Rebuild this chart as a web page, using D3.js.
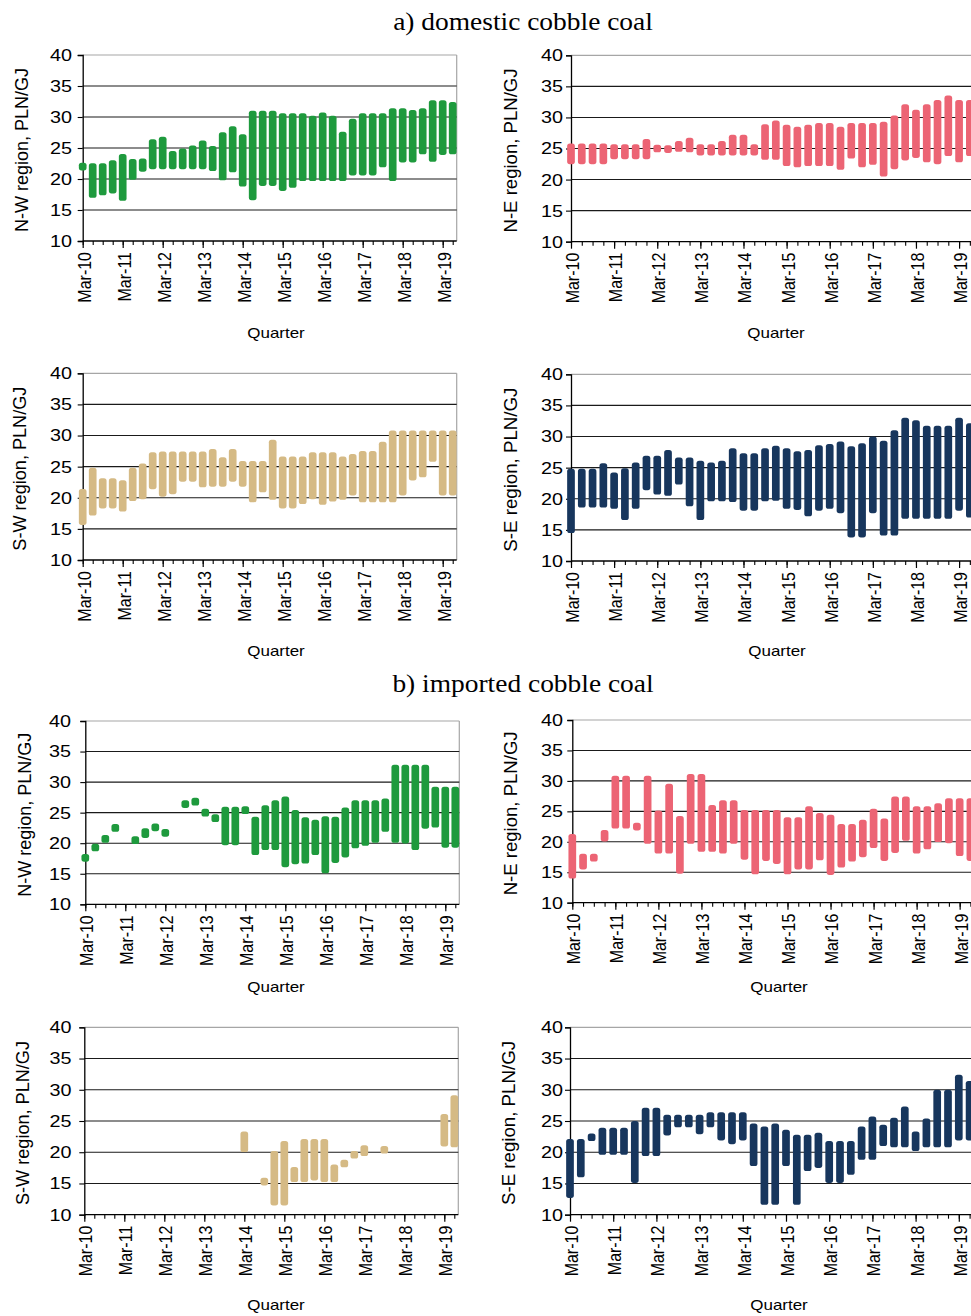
<!DOCTYPE html>
<html>
<head>
<meta charset="utf-8">
<script src="https://cdn.jsdelivr.net/npm/d3@7"></script>
<style>
  html, body { margin: 0; padding: 0; background: #fff; }
  svg { display: block; }
</style>
</head>
<body>
<svg id="chart" width="971" height="1316"></svg>
<script>
// ---------- categories ----------
const quarters = [
  "Mar-10","Jun-10","Sep-10","Dec-10","Mar-11","Jun-11","Sep-11","Dec-11",
  "Mar-12","Jun-12","Sep-12","Dec-12","Mar-13","Jun-13","Sep-13","Dec-13",
  "Mar-14","Jun-14","Sep-14","Dec-14","Mar-15","Jun-15","Sep-15","Dec-15",
  "Mar-16","Jun-16","Sep-16","Dec-16","Mar-17","Jun-17","Sep-17","Dec-17",
  "Mar-18","Jun-18","Sep-18","Dec-18","Mar-19","Jun-19"
];
const tickLabels = ["Mar-10","Mar-11","Mar-12","Mar-13","Mar-14","Mar-15","Mar-16","Mar-17","Mar-18","Mar-19"];
const yTicks = [10, 15, 20, 25, 30, 35, 40];
const sectionTitles = ["a) domestic cobble coal", "b) imported cobble coal"];
const regionTitles = ["N-W region, PLN/GJ", "N-E region, PLN/GJ", "S-W region, PLN/GJ", "S-E region, PLN/GJ"];
const xTitle = "Quarter";

// ---------- a) domestic cobble coal ----------
const aNWLow  = [22.0,17.6,18.0,18.3,17.1,20.5,21.8,22.2,22.2,22.2,22.2,22.2,22.2,21.9,20.4,21.7,19.4,17.2,19.5,19.5,18.7,19.2,20.3,20.3,20.3,20.3,20.3,21.2,21.2,21.2,22.5,20.3,23.3,23.3,24.6,23.4,24.5,24.6];
const aNWHigh = [22.0,21.9,21.9,22.4,23.4,22.6,22.7,25.8,26.2,23.9,24.3,24.8,25.6,24.7,26.9,27.9,26.6,30.4,30.4,30.4,30.0,30.0,30.0,29.6,30.1,29.6,27.0,29.1,30.0,30.0,30.0,30.8,30.8,30.5,30.8,32.1,32.1,31.8];

const aNELow  = [23.1,23.1,23.1,23.1,23.9,23.9,23.9,23.9,25.0,24.9,25.1,25.0,24.5,24.5,24.5,24.5,24.5,24.5,23.8,23.8,22.8,22.6,22.8,22.8,22.8,22.2,24.0,22.6,23.0,21.1,22.3,23.7,24.1,23.4,23.1,24.4,23.4,24.4];
const aNEHigh = [25.2,25.2,25.2,25.2,25.05,25.05,25.05,25.9,25.0,24.9,25.6,26.1,25.05,25.05,25.6,26.6,26.6,25.05,28.3,28.9,28.2,27.9,28.2,28.5,28.5,27.9,28.5,28.5,28.5,28.7,29.7,31.5,30.6,31.5,32.2,32.9,32.2,32.2];

const aSWLow  = [16.25,17.75,18.9,18.9,18.4,20.1,20.4,22.0,20.8,21.2,23.2,23.2,22.3,22.4,22.4,23.2,22.4,19.9,21.5,20.3,18.9,18.9,19.6,20.4,19.5,20.0,20.3,21.0,19.9,19.9,19.9,19.9,21.0,23.4,23.9,26.4,21.0,21.0];
const aSWHigh = [20.8,24.2,22.5,22.5,22.2,24.2,24.9,26.7,26.8,26.8,26.8,26.8,26.8,27.2,25.9,27.2,25.3,25.3,25.3,28.7,26.0,26.0,26.0,26.7,26.7,26.7,26.0,26.4,26.9,26.9,28.4,30.2,30.2,30.2,30.2,30.2,30.2,30.2];

const aSELow  = [15.1,19.2,19.2,19.2,19.0,17.2,19.0,22.0,21.3,21.1,22.9,19.4,17.2,20.2,20.2,20.1,18.7,18.7,20.2,20.3,19.0,18.8,17.8,18.7,19.0,18.3,14.4,14.4,18.3,14.7,14.7,17.4,17.4,17.4,17.4,17.4,18.7,17.6];
const aSEHigh = [24.2,24.2,24.2,25.1,23.6,24.3,25.2,26.3,26.3,27.2,26.0,26.0,25.5,25.2,25.5,27.5,26.7,26.7,27.5,27.9,27.5,27.0,27.2,28.0,28.2,28.6,27.8,28.3,29.4,28.7,30.4,32.4,32.0,31.1,31.1,31.1,32.4,31.5];

// ---------- b) imported cobble coal ----------
const bNWLow  = [17.6,19.3,20.7,22.5,null,20.5,21.5,22.6,21.7,null,26.4,26.8,25.0,24.1,20.3,20.3,25.4,18.7,19.5,19.5,16.7,17.2,17.3,18.7,15.7,17.4,18.3,19.8,20.2,20.7,22.5,20.7,20.6,19.5,23.0,23.2,19.9,19.9];
const bNWHigh = [17.6,19.3,20.7,22.5,null,20.5,21.8,22.6,21.7,null,26.4,26.8,25.0,24.1,25.35,25.35,25.4,23.7,25.6,26.4,27.0,24.8,23.6,23.2,23.8,23.7,25.2,26.4,26.4,26.4,26.7,32.2,32.2,32.2,32.2,28.6,28.6,28.6];

const bNELow  = [14.6,16.1,17.4,20.7,22.8,22.8,22.5,20.3,18.7,18.7,15.4,20.3,19.0,19.0,18.7,20.3,17.7,15.3,17.5,17.0,15.3,16.1,16.1,17.6,15.2,16.4,17.4,18.1,19.6,17.5,18.8,20.8,18.7,19.4,20.6,20.4,18.3,17.5];
const bNEHigh = [20.65,17.4,17.4,21.3,30.2,30.2,22.5,30.2,24.5,28.9,23.6,30.5,30.5,25.4,26.2,26.2,24.6,24.6,24.6,24.6,23.4,23.4,25.2,24.1,23.8,22.3,22.3,23.0,24.8,23.2,26.8,26.8,25.2,25.2,25.7,26.5,26.5,26.5];

const bSWLow  = [null,null,null,null,null,null,null,null,null,null,null,null,null,null,null,null,20.65,null,15.3,12.1,12.1,15.85,15.85,16.1,15.85,15.85,18.2,19.6,20.0,null,20.4,null,null,null,null,null,21.55,21.4];
const bSWHigh = [null,null,null,null,null,null,null,null,null,null,null,null,null,null,null,null,22.7,null,15.3,19.6,21.2,17.0,21.5,21.5,21.5,17.4,18.2,19.6,20.5,null,20.4,null,null,null,null,null,25.5,28.5];

const bSELow  = [13.3,16.6,22.4,20.2,20.2,20.2,15.7,20.0,20.0,23.3,24.6,24.6,23.5,24.6,22.5,21.9,22.5,18.4,12.2,12.2,18.4,12.2,17.6,18.1,15.7,15.7,17.0,19.4,19.4,21.6,21.4,21.4,20.8,21.4,21.4,21.4,22.5,22.5];
const bSEHigh = [21.5,21.5,22.4,23.3,23.3,23.3,24.4,26.5,26.5,25.4,25.4,25.4,25.4,25.8,25.8,25.8,25.8,24.0,23.5,24.0,23.0,22.2,22.2,22.5,21.2,21.2,21.2,23.5,25.1,23.8,24.9,26.7,22.7,24.8,29.4,29.4,31.8,30.8];

// ---------- styling / layout ----------
const GREEN = "#1e9a3d", PINK = "#ec6474", TAN = "#d5ba85", NAVY = "#17365d";
const SX = 1.2;           // horizontal stretch of the original image text
const FONT = "Liberation Sans, Arial, sans-serif";

const panels = [
  {lo:aNWLow, hi:aNWHigh, color:GREEN, title:regionTitles[0], x0:82.7, step:10,    yTop:55,    yBot:241,   titleX:28,  tickEnd:72, qX:276, qY:337.5},
  {lo:aNELow, hi:aNEHigh, color:PINK,  title:regionTitles[1], x0:571,  step:10.78, yTop:55.3,  yBot:241.7, titleX:517, tickEnd:563, qX:776, qY:338},
  {lo:aSWLow, hi:aSWHigh, color:TAN,   title:regionTitles[2], x0:82.7, step:10,    yTop:373.3, yBot:560,   titleX:26,  tickEnd:72, qX:276, qY:656},
  {lo:aSELow, hi:aSEHigh, color:NAVY,  title:regionTitles[3], x0:571,  step:10.78, yTop:374.3, yBot:561,   titleX:517, tickEnd:563, qX:777, qY:656},
  {lo:bNWLow, hi:bNWHigh, color:GREEN, title:regionTitles[0], x0:85.3, step:10,    yTop:721,   yBot:904.3, titleX:31,  tickEnd:71, qX:276, qY:992},
  {lo:bNELow, hi:bNEHigh, color:PINK,  title:regionTitles[1], x0:572.3,step:10.76, yTop:720,   yBot:902.7, titleX:517, tickEnd:563, qX:779, qY:992},
  {lo:bSWLow, hi:bSWHigh, color:TAN,   title:regionTitles[2], x0:84.3, step:10,    yTop:1027.3,yBot:1214.7,titleX:29,  tickEnd:71.5, qX:276, qY:1310},
  {lo:bSELow, hi:bSEHigh, color:NAVY,  title:regionTitles[3], x0:570,  step:10.8,  yTop:1027.3,yBot:1214.7,titleX:515, tickEnd:563, qX:779, qY:1310}
];

const svg = d3.select("#chart");

// section titles
[[523, 30], [523, 692]].forEach((p, i) => {
  svg.append("text")
    .attr("transform", `translate(${p[0]},${p[1]}) scale(1.12,1)`)
    .attr("text-anchor", "middle")
    .attr("font-family", "Liberation Serif, Times New Roman, serif")
    .attr("font-size", 24.5)
    .attr("fill", "#000")
    .text(sectionTitles[i]);
});

panels.forEach(p => {
  const g = svg.append("g");
  const xMax = 37.4;
  const x = d3.scaleLinear().domain([0, xMax]).range([p.x0, p.x0 + xMax * p.step]);
  const y = d3.scaleLinear().domain([10, 40]).range([p.yBot, p.yTop]);
  const right = x(xMax);

  // top and right border (grey)
  g.append("line").attr("x1", p.x0).attr("x2", right).attr("y1", y(40)).attr("y2", y(40))
    .attr("stroke", "#a6a6a6").attr("stroke-width", 1.2);
  g.append("line").attr("x1", right).attr("x2", right).attr("y1", y(40)).attr("y2", y(10))
    .attr("stroke", "#a6a6a6").attr("stroke-width", 1.2);

  // gridlines
  g.selectAll(".grid").data(yTicks.filter(t => t > 10 && t < 40)).enter()
    .append("line")
    .attr("x1", p.x0).attr("x2", right)
    .attr("y1", d => y(d)).attr("y2", d => y(d))
    .attr("stroke", "#1a1a1a").attr("stroke-width", 1.1);

  // y axis
  const yAxis = d3.axisLeft(y).tickValues(yTicks).tickSize(5).tickPadding(0).tickFormat(() => "");
  const ya = g.append("g").attr("transform", `translate(${p.x0},0)`).call(yAxis);
  ya.select(".domain").attr("stroke", "#000").attr("stroke-width", 1.3);
  ya.selectAll(".tick line").attr("stroke", "#000").attr("stroke-width", 1.1);
  // y tick labels (stretched)
  g.selectAll(".ylab").data(yTicks).enter().append("text")
    .attr("transform", d => `translate(${p.tickEnd},${y(d)}) scale(${SX},1)`)
    .attr("text-anchor", "end").attr("dy", "0.36em")
    .attr("font-family", FONT).attr("font-size", 16.5).attr("fill", "#000")
    .text(d => d);

  // x axis with minor (quarter) and major (year) ticks
  const minor = d3.axisBottom(x).tickValues(d3.range(0, quarters.length)).tickSize(4).tickFormat(() => "");
  const xa = g.append("g").attr("transform", `translate(0,${p.yBot})`).call(minor);
  xa.select(".domain").remove();
  xa.selectAll(".tick line").attr("stroke", "#000").attr("stroke-width", 1.1);
  const majorIdx = tickLabels.map(t => quarters.indexOf(t));
  const major = d3.axisBottom(x).tickValues(majorIdx).tickSize(7).tickFormat(() => "");
  const xb = g.append("g").attr("transform", `translate(0,${p.yBot})`).call(major);
  xb.select(".domain").remove();
  xb.selectAll(".tick line").attr("stroke", "#000").attr("stroke-width", 1.2);
  g.append("line").attr("x1", p.x0).attr("x2", right).attr("y1", p.yBot).attr("y2", p.yBot)
    .attr("stroke", "#000").attr("stroke-width", 1.3);

  // x tick labels rotated
  g.selectAll(".xlab").data(tickLabels).enter().append("text")
    .attr("transform", d => `translate(${x(quarters.indexOf(d)) + 1},${p.yBot + 11}) scale(${SX},1) rotate(-90)`)
    .attr("text-anchor", "end").attr("dy", "0.36em")
    .attr("font-family", FONT).attr("font-size", 16).attr("fill", "#000")
    .text(d => d);

  // axis titles
  g.append("text")
    .attr("transform", `translate(${p.qX},${p.qY}) scale(1.17,1)`)
    .attr("text-anchor", "middle")
    .attr("font-family", FONT).attr("font-size", 14.5).attr("fill", "#000")
    .text(xTitle);
  g.append("text")
    .attr("transform", `translate(${p.titleX},${(p.yTop + p.yBot) / 2 + 2}) scale(${SX},1) rotate(-90)`)
    .attr("text-anchor", "middle")
    .attr("font-family", FONT).attr("font-size", 16).attr("fill", "#000")
    .attr("textLength", 164).attr("lengthAdjust", "spacingAndGlyphs")
    .text(p.title);

  // range bars (min-max per quarter)
  const cap = 3.85;
  const rows = quarters.map((q, i) => ({i, lo: p.lo[i], hi: p.hi[i]})).filter(d => d.lo != null && d.hi != null);
  g.selectAll(".bar").data(rows).enter().append("rect")
    .attr("x", d => x(d.i) - cap)
    .attr("width", cap * 2)
    .attr("y", d => y(d.hi) - cap)
    .attr("height", d => y(d.lo) - y(d.hi) + cap * 2)
    .attr("rx", 2.6).attr("ry", 2.6)
    .attr("fill", p.color);
});
</script>
</body>
</html>
